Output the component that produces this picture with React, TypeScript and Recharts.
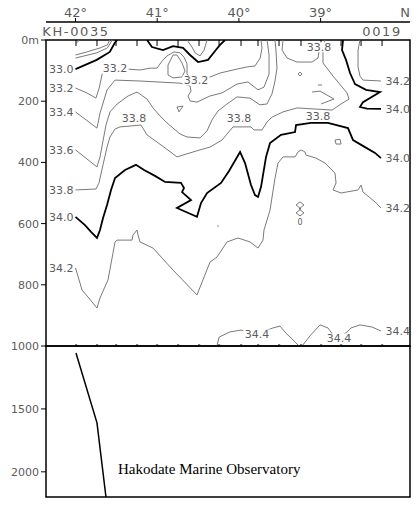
import React from 'react';
import { ComposedChart, Line, Scatter, XAxis, YAxis, ReferenceArea } from 'recharts';

type Pt = [number, number]; // [latitude °N, depth m]

// ---------- axes ----------
const latDomain: [number, number] = [37.906, 42.361];
const upperDepth: [number, number] = [0, 1000];
const lowerDepth: [number, number] = [1000, 2200];
const latTicks = [42, 41, 40, 39];
const northLat = 37.965;
const upperDepthTicks = [0, 200, 400, 600, 800, 1000];
const lowerDepthTicks = [1500, 2000];

// ---------- stations ----------
const stationLats = [41.994, 41.737, 41.504, 41.247, 41.002, 40.745, 40.488, 40.243, 39.974, 39.766, 39.509, 39.24, 38.995, 38.75, 38.505, 38.248];
const stationNames = [
  { lat: 41.994, name: 'KH-0035' },
  { lat: 38.248, name: '0019' },
];

// ---------- salinity contours (thin) ----------
const c326: Pt[] = [[41.99, 10], [41.95, 0]];
const c328a: Pt[] = [[42.0, 49], [41.86, 39], [41.7, 26], [41.61, 16], [41.58, 0]];
const c328b: Pt[] = [[42.0, 59], [41.74, 42], [41.61, 26], [41.55, 0]];
const bowlInner: Pt[] = [[40.635, 0], [40.574, 23], [40.537, 42], [40.476, 52], [40.427, 33], [40.39, 0]];
const bowlLoop: Pt[] = [[40.806, 49], [40.868, 82], [40.868, 114], [40.806, 124], [40.696, 121], [40.66, 101], [40.696, 75], [40.758, 49], [40.806, 49]];
const c332: Pt[] = [[42.0, 157], [41.86, 173], [41.75, 190], [41.71, 157], [41.676, 114], [41.651, 92], [41.37, 95], [41.21, 98], [41.088, 92], [41.002, 92], [40.941, 69], [40.88, 52], [40.794, 39], [40.721, 42], [40.672, 56], [40.635, 78], [40.635, 111], [40.574, 131], [40.354, 121], [40.231, 108], [40.023, 95], [39.9, 88], [39.803, 85], [39.74, 59], [39.717, 26], [39.73, 0]];
const c334: Pt[] = [[42.0, 235], [41.737, 288], [41.7, 239], [41.614, 163], [41.516, 131], [41.21, 134], [41.002, 137], [40.721, 141], [40.598, 150], [40.586, 167], [40.623, 183], [40.598, 199], [40.513, 203], [40.354, 183], [40.207, 173], [40.023, 144], [39.889, 137], [39.766, 163], [39.693, 154], [39.631, 111], [39.631, 49], [39.656, 0]];
const c336: Pt[] = [[42.0, 359], [41.737, 415], [41.7, 382], [41.627, 278], [41.578, 235], [41.49, 209], [41.357, 183], [41.247, 170], [41.125, 193], [41.051, 222], [40.966, 248], [40.88, 271], [40.721, 307], [40.635, 317], [40.476, 320], [40.39, 297], [40.329, 261], [40.256, 232], [40.145, 209], [40.023, 186], [39.864, 190], [39.742, 212], [39.656, 209], [39.595, 176], [39.558, 134], [39.534, 92], [39.546, 36], [39.558, 0]];
const c338: Pt[] = [[42.0, 490], [41.749, 487], [41.712, 467], [41.663, 408], [41.614, 350], [41.578, 317], [41.516, 291], [41.455, 284], [41.198, 278], [41.125, 310], [40.917, 350], [40.758, 382], [40.476, 359], [40.354, 350], [40.207, 327], [40.072, 284], [39.852, 284], [39.815, 294], [39.717, 294], [39.656, 268], [39.595, 252], [39.46, 235], [39.289, 222], [38.86, 229], [38.75, 209], [38.652, 193], [38.677, 173], [38.848, 118], [38.971, 75], [38.971, 33], [38.946, 0]];
const c338Cap: Pt[] = [[39.46, 0], [39.472, 33], [39.411, 59], [39.289, 72], [39.105, 72], [39.032, 59], [39.02, 39]];
const wedge: Pt[] = [[39.105, 170], [39.007, 167], [38.836, 193], [38.995, 209]];
const c342East: Pt[] = [[38.518, 0], [38.542, 33], [38.542, 88], [38.518, 118], [38.481, 131], [38.261, 134]];
const c342: Pt[] = [[42.0, 745], [41.92, 817], [41.847, 840], [41.737, 876], [41.7, 843], [41.602, 784], [41.516, 660], [41.492, 654], [41.308, 654], [41.296, 637], [41.247, 621], [41.235, 637], [41.21, 660], [41.051, 680], [40.806, 752], [40.513, 833], [40.44, 784], [40.354, 726], [40.268, 709], [40.145, 660], [40.011, 647], [39.864, 660], [39.766, 680], [39.705, 654], [39.693, 621], [39.619, 556], [39.558, 451], [39.521, 402], [39.46, 382], [39.313, 382], [39.276, 366], [39.24, 359], [39.191, 366], [39.179, 376], [39.056, 386], [38.946, 402], [38.824, 435], [38.811, 467], [38.848, 490], [38.75, 500], [38.542, 490], [38.505, 474], [38.481, 497], [38.334, 529], [38.261, 549]];
const c344West: Pt[] = [[40.268, 1000], [40.243, 971], [40.109, 954], [39.974, 948], [39.779, 961], [39.583, 941], [39.497, 935], [39.424, 958], [39.35, 977], [39.264, 1000]];
const c344East: Pt[] = [[39.227, 1000], [39.13, 967], [39.007, 931], [38.91, 941], [38.848, 964], [38.775, 974], [38.677, 954], [38.628, 941], [38.518, 931], [38.371, 938], [38.261, 951]];
const ring: Pt[] = [[39.276, 111], [39.252, 105], [39.227, 111], [39.252, 118], [39.276, 111]];
const dash: Pt[] = [[39.032, 147], [38.983, 147]];
const box: Pt[] = [[38.824, 327], [38.763, 324], [38.75, 340], [38.811, 340], [38.824, 327]];
const eight: Pt[] = [[39.252, 529], [39.203, 539], [39.264, 552], [39.203, 565], [39.252, 575], [39.301, 565], [39.24, 552], [39.301, 539], [39.252, 529]];
const tri: Pt[] = [[40.758, 219], [40.684, 216], [40.733, 235], [40.758, 219]];
const specks = [{ lat: 40.256, depth: 608 }];

// ---------- salinity contours (thick, every 1.0) ----------
const c330West: Pt[] = [[42.0, 95], [41.74, 65], [41.58, 39], [41.52, 10], [41.49, 0]];
const c330Bowl: Pt[] = [[41.125, 0], [41.064, 23], [40.929, 33], [40.806, 20], [40.684, 26], [40.598, 49], [40.5, 72], [40.378, 65], [40.292, 36], [40.231, 16], [40.17, 0]];
const c340East: Pt[] = [[38.726, 0], [38.738, 33], [38.689, 65], [38.64, 108], [38.579, 144], [38.444, 163], [38.273, 170], [38.481, 203], [38.518, 219], [38.432, 224], [38.261, 225]];
const c340: Pt[] = [[42.0, 578], [41.884, 605], [41.81, 627], [41.737, 647], [41.7, 621], [41.663, 582], [41.614, 539], [41.565, 490], [41.516, 451], [41.394, 425], [41.26, 408], [41.161, 425], [41.027, 444], [40.904, 464], [40.709, 467], [40.672, 484], [40.696, 497], [40.586, 523], [40.758, 549], [40.513, 578], [40.464, 533], [40.39, 500], [40.219, 467], [40.121, 428], [39.986, 366], [39.925, 402], [39.852, 474], [39.803, 507], [39.766, 513], [39.729, 480], [39.668, 382], [39.619, 337], [39.485, 310], [39.313, 301], [39.301, 278], [39.118, 271], [38.91, 271], [38.665, 288], [38.603, 327], [38.457, 350], [38.334, 369], [38.261, 386]];

// ---------- deep panel ----------
const deepLine: Pt[] = [[41.994, 1056], [41.737, 1611], [41.627, 2200]];

// ---------- contour labels ----------
const leftLabelLat = 42.025;
const rightLabelLat = 38.205;
const leftLabels = [
  { depth: 95, text: '33.0' }, { depth: 157, text: '33.2' }, { depth: 235, text: '33.4' },
  { depth: 359, text: '33.6' }, { depth: 490, text: '33.8' }, { depth: 578, text: '34.0' },
  { depth: 745, text: '34.2' },
];
const rightLabels = [
  { depth: 134, text: '34.2' }, { depth: 225, text: '34.0' }, { depth: 386, text: '34.0' },
  { depth: 549, text: '34.2' }, { depth: 951, text: '34.4' },
];
const inlineLabels = [
  { lat: 41.516, depth: 92, text: '33.2' }, { lat: 40.525, depth: 131, text: '33.2' },
  { lat: 41.284, depth: 255, text: '33.8' }, { lat: 39.999, depth: 255, text: '33.8' },
  { lat: 39.032, depth: 248, text: '33.8' }, { lat: 39.02, depth: 22, text: '33.8' },
  { lat: 39.779, depth: 961, text: '34.4' }, { lat: 38.775, depth: 974, text: '34.4' },
];
const tinyLabels = [{ lat: 39.252, depth: 596, text: '0' }];
const credit = [{ lat: 41.48, depth: 2017, text: 'Hakodate Marine Observatory' }];

// ---------- helpers / styles ----------
const FONT = 'DejaVu Sans, Verdana, sans-serif';
const TEXT = '#5c5c5c';
const THIN = '#7a7a7a';
const rows = (pts: Pt[]) => pts.map(([lat, depth]) => ({ lat, depth }));

const thinContours: Pt[][] = [c326, c328a, c328b, bowlInner, bowlLoop, c332, c334, c336, c338, c338Cap, wedge, c342East, c342, c344West, c344East, ring, dash, box, eight, tri];
const thickContours: Pt[][] = [c330West, c330Bowl, c340East, c340];

const LatTick = (p: any) => {
  const v = p.payload.value;
  const isN = v === northLat;
  return (
    <g>
      {!isN && <line x1={p.x} x2={p.x} y1={p.y + 2} y2={p.y + 6} stroke="#000" strokeWidth={1} />}
      <text x={p.x} y={p.y + 1} textAnchor="middle" fontSize={13} fill={TEXT} fontFamily={FONT}>
        {isN ? 'N' : `${v}°`}
      </text>
    </g>
  );
};

const StationName = (p: any) => (
  <text x={p.cx} y={p.cy - 4} textAnchor="middle" fontSize={13} letterSpacing={1.6} fill={TEXT} fontFamily={FONT}>
    {p.payload.name}
  </text>
);
const StationTick = (p: any) => <line x1={p.cx} x2={p.cx} y1={p.cy} y2={p.cy + 6} stroke="#000" strokeWidth={1} />;
const StationDot = (p: any) => <rect x={p.cx - 1} y={p.cy - 1.5} width={2.2} height={2.2} fill="#000" />;
const SpeckDot = (p: any) => <rect x={p.cx - 0.6} y={p.cy - 0.6} width={1.3} height={1.3} fill={THIN} />;

const edgeLabel = (anchor: 'start' | 'end') => (p: any) => (
  <text x={p.cx} y={p.cy} dy="0.36em" textAnchor={anchor} fontSize={11} fill={TEXT} fontFamily={FONT}>
    {p.payload.text}
  </text>
);
const InlineLabel = (p: any) => {
  const w = p.payload.text.length * 6.3;
  return (
    <g>
      <rect x={p.cx - w / 2 - 1} y={p.cy - 4.5} width={w + 2} height={10} fill="#fff" />
      <text x={p.cx} y={p.cy} dy="0.36em" textAnchor="middle" fontSize={11} fill={TEXT} fontFamily={FONT}>
        {p.payload.text}
      </text>
    </g>
  );
};
const TinyLabel = (p: any) => (
  <text x={p.cx} y={p.cy} dy="0.36em" textAnchor="middle" fontSize={8} fill={TEXT} fontFamily={FONT}>
    {p.payload.text}
  </text>
);
const CreditLabel = (p: any) => (
  <text x={p.cx} y={p.cy} textAnchor="start" fontSize={15} fill="#000" fontFamily="Liberation Serif, Times New Roman, serif">
    {p.payload.text}
  </text>
);

const hiddenX = (
  <XAxis type="number" dataKey="lat" domain={latDomain} reversed allowDataOverflow hide />
);

export default function App() {
  return (
    <div style={{ position: 'absolute', left: 0, top: 0, width: 418, height: 506, background: '#fff' }}>
      {/* latitude axis */}
      <div style={{ position: 'absolute', left: 0, top: 0 }}>
        <ComposedChart width={418} height={40} margin={{ top: 0, right: 8, bottom: 0, left: 46 }}>
          <XAxis
            type="number"
            dataKey="lat"
            orientation="top"
            domain={latDomain}
            reversed
            ticks={[...latTicks, northLat]}
            interval={0}
            height={22}
            tickSize={4}
            tickMargin={2}
            tickLine={false}
            axisLine={{ stroke: '#000', strokeWidth: 1.5 }}
            tick={(p: any) => <LatTick {...p} />}
          />
          <YAxis type="number" dataKey="v" domain={[0, 1]} hide />
          <Scatter
            data={stationNames.map((s) => ({ lat: s.lat, v: 0, name: s.name }))}
            shape={StationName}
            isAnimationActive={false}
          />
        </ComposedChart>
      </div>

      {/* upper panel 0 - 1000 m */}
      <div style={{ position: 'absolute', left: 0, top: 0 }}>
        <ComposedChart width={418} height={360} margin={{ top: 40, right: 8, bottom: 14, left: 0 }}>
          {hiddenX}
          <YAxis
            type="number"
            dataKey="depth"
            domain={upperDepth}
            reversed
            allowDataOverflow
            ticks={upperDepthTicks}
            interval={0}
            width={46}
            tickSize={5}
            tickMargin={2}
            axisLine={false}
            tickLine={{ stroke: '#000' }}
            tickFormatter={(v: number) => (v === 0 ? '0m' : String(v))}
            tick={{ fontSize: 11, fill: TEXT, fontFamily: FONT }}
          />
          <ReferenceArea
            x1={latDomain[0]}
            x2={latDomain[1]}
            y1={upperDepth[0]}
            y2={upperDepth[1]}
            fill="none"
            fillOpacity={0}
            stroke="#000"
            strokeWidth={1.5}
            ifOverflow="visible"
          />
          {thinContours.map((pts, i) => (
            <Line
              key={`thin-${i}`}
              data={rows(pts)}
              dataKey="depth"
              type="linear"
              stroke={THIN}
              strokeWidth={1}
              dot={false}
              activeDot={false}
              isAnimationActive={false}
            />
          ))}
          {thickContours.map((pts, i) => (
            <Line
              key={`thick-${i}`}
              data={rows(pts)}
              dataKey="depth"
              type="linear"
              stroke="#000"
              strokeWidth={1.8}
              dot={false}
              activeDot={false}
              isAnimationActive={false}
            />
          ))}
          <Scatter data={stationLats.map((lat) => ({ lat, depth: 0 }))} shape={StationTick} isAnimationActive={false} />
          <Scatter data={stationLats.map((lat) => ({ lat, depth: 1000 }))} shape={StationDot} isAnimationActive={false} />
          <Scatter data={specks} shape={SpeckDot} isAnimationActive={false} />
          <Scatter data={leftLabels.map((l) => ({ ...l, lat: leftLabelLat }))} shape={edgeLabel('end')} isAnimationActive={false} />
          <Scatter data={rightLabels.map((l) => ({ ...l, lat: rightLabelLat }))} shape={edgeLabel('start')} isAnimationActive={false} />
          <Scatter data={inlineLabels} shape={InlineLabel} isAnimationActive={false} />
          <Scatter data={tinyLabels} shape={TinyLabel} isAnimationActive={false} />
        </ComposedChart>
      </div>

      {/* lower panel 1000 - 2200 m */}
      <div style={{ position: 'absolute', left: 0, top: 336 }}>
        <ComposedChart width={418} height={164} margin={{ top: 10, right: 8, bottom: 3, left: 0 }}>
          {hiddenX}
          <YAxis
            type="number"
            dataKey="depth"
            domain={lowerDepth}
            reversed
            allowDataOverflow
            ticks={lowerDepthTicks}
            interval={0}
            width={46}
            tickSize={5}
            tickMargin={2}
            axisLine={false}
            tickLine={{ stroke: '#000' }}
            tick={{ fontSize: 11, fill: TEXT, fontFamily: FONT }}
          />
          <ReferenceArea
            x1={latDomain[0]}
            x2={latDomain[1]}
            y1={lowerDepth[0]}
            y2={lowerDepth[1]}
            fill="none"
            fillOpacity={0}
            stroke="#000"
            strokeWidth={1.5}
            ifOverflow="visible"
          />
          <Line
            data={rows(deepLine)}
            dataKey="depth"
            type="linear"
            stroke="#000"
            strokeWidth={1.5}
            dot={false}
            activeDot={false}
            isAnimationActive={false}
          />
          <Scatter data={credit} shape={CreditLabel} isAnimationActive={false} />
        </ComposedChart>
      </div>
    </div>
  );
}
